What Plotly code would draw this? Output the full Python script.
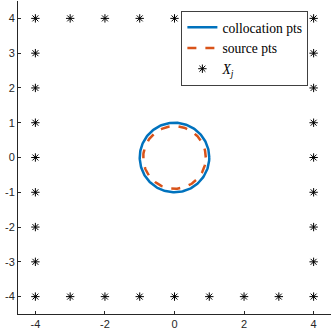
import numpy as np
import plotly.graph_objects as go

# circle radii (collocation / source points)
r_colloc = 1.0
r_source = 0.9
n_circle = 200

# X_j points on the boundary of the square [-4, 4]
xj_x = [-4, -3, -2, -1, 0, 1, 2, 3, 4,
        4, 4, 4, 4, 4, 4, 4, 4,
        3, 2, 1, 0, -1, -2, -3, -4,
        -4, -4, -4, -4, -4, -4, -4]
xj_y = [4, 4, 4, 4, 4, 4, 4, 4, 4,
        3, 2, 1, 0, -1, -2, -3, -4,
        -4, -4, -4, -4, -4, -4, -4, -4,
        -3, -2, -1, 0, 1, 2, 3]

x_ticks = [-4, -2, 0, 2, 4]
y_ticks = [-4, -3, -2, -1, 0, 1, 2, 3, 4]

t = np.linspace(0, 2 * np.pi, n_circle)

fig = go.Figure()
fig.add_trace(go.Scatter(x=r_colloc * np.cos(t), y=r_colloc * np.sin(t),
                         mode='lines', name='collocation pts',
                         line=dict(color='#0072BD', width=2.5)))
fig.add_trace(go.Scatter(x=r_source * np.cos(t), y=r_source * np.sin(t),
                         mode='lines', name='source pts',
                         line=dict(color='#D95319', width=2.5, dash='dash')))
fig.add_trace(go.Scatter(x=xj_x, y=xj_y, mode='markers',
                         name='<i>X</i><sub><i>j</i></sub>',
                         marker=dict(symbol='asterisk-open', size=7, color='black',
                                     line=dict(color='black', width=1))))

axis_common = dict(range=[-4.5, 4.5], showgrid=False, zeroline=False,
                   showline=True, linecolor='#262626', linewidth=1,
                   ticks='inside', ticklen=3, tickcolor='#262626',
                   tickfont=dict(family='Liberation Sans, Arial', size=11, color='#262626'),
                   mirror=False, automargin=False)

fig.update_xaxes(tickvals=x_ticks, ticktext=[str(v) for v in x_ticks], **axis_common)
fig.update_yaxes(tickvals=y_ticks, ticktext=[str(v) for v in y_ticks], **axis_common)

fig.update_layout(
    width=332, height=332,
    margin=dict(l=18, r=1, t=1, b=18),
    plot_bgcolor='white', paper_bgcolor='white',
    legend=dict(x=0.522, y=0.968, xanchor='left', yanchor='top',
                bgcolor='white', bordercolor='#404040', borderwidth=1,
                font=dict(family='Liberation Serif, DejaVu Serif', size=13.6, color='black'),
                tracegroupgap=0, itemwidth=30),
)

# page has a default body margin, drop it so the figure sits at 0,0
fig.write_html("out.html", config={'displayModeBar': False},
               post_script="document.body.style.margin='0';")
